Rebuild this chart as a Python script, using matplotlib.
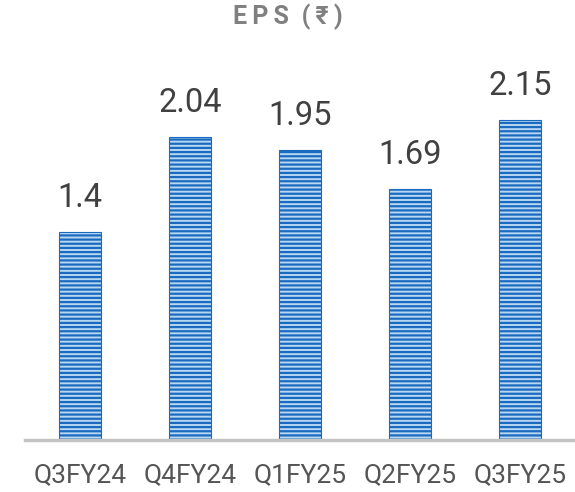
import matplotlib
matplotlib.use('Agg')
from matplotlib import pyplot as plt

# 数据
quarters = ['Q3FY24', 'Q4FY24', 'Q1FY25', 'Q2FY25', 'Q3FY25']
eps = [1.4, 2.04, 1.95, 1.69, 2.15]
eps_labels = ['1.4', '2.04', '1.95', '1.69', '2.15']

plt.rcParams['font.family'] = ['Roboto', 'DejaVu Sans']
plt.rcParams['hatch.linewidth'] = 1.6

fig = plt.figure(figsize=(5.75, 4.92), dpi=100)
ax = fig.add_axes([0.043, 0.106, 0.957, 0.785])

x = list(range(len(quarters)))
bars = ax.bar(x, eps, width=0.38, color='#b8d8f2', edgecolor='#1a6ac0',
              hatch='----', linewidth=0.8)

for xi, v, lab in zip(x, eps, eps_labels):
    ax.annotate(lab, (xi, v), xytext=(0, 13), textcoords='offset points',
                ha='center', va='bottom', fontsize=23.5, color='#404040')

ax.set_xlim(-0.5, 4.5)
ax.set_ylim(0, 2.6)
ax.set_xticks(x)
ax.set_xticklabels(quarters, fontsize=19, color='#555555')
ax.tick_params(axis='x', length=0, pad=17)
ax.set_yticks([])
for s in ['top', 'right', 'left']:
    ax.spines[s].set_visible(False)
ax.spines['bottom'].set_color('#c4c4c4')
ax.spines['bottom'].set_linewidth(2.5)

# 标题（字母间距加宽）
fig.text(0.5, 0.966, 'E\u2009P\u2009S\u2002(\u2009₹\u2009)', ha='center', va='center',
         fontsize=18, fontweight='bold', color='#808080')

plt.savefig('out.png', dpi=100)
